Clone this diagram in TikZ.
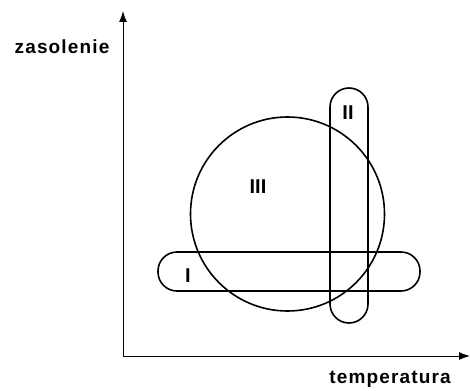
\documentclass[tikz,border=0pt]{standalone}
\usepackage{fontspec}
\setmainfont{Liberation Sans}
\usetikzlibrary{arrows.meta}
\begin{document}
\begin{tikzpicture}[x=1pt, y=-1pt,
    axis/.style={-{Latex[length=11pt,width=8pt]}, line width=1pt},
    region/.style={draw, line width=1.6pt, inner sep=0pt},
    band/.style={region, rectangle, rounded corners=19pt},
    lbl/.style={font=\fontsize{19}{21}\selectfont\bfseries\addfontfeature{LetterSpace=6}},
    tag/.style={font=\fontsize{20}{22}\selectfont\bfseries}
]
\useasboundingbox (0,0) rectangle (470,390);
% Osie
\coordinate (origin) at (123,356);
\coordinate (ytip) at (123,11);
\coordinate (xtip) at (470,356);
\draw[axis] (origin) -- (ytip);
\draw[axis] (origin) -- (xtip);
\node[lbl] (ylab) at (62,47) {zasolenie};
\node[lbl] (xlab) at (390,379) {temperatura};

% Obszary
\node[region, circle, minimum size=194pt] (regIII) at (287.5,214) {};
\node[band, minimum width=262pt, minimum height=39pt] (regI) at (289,271.5) {};
\node[band, minimum width=38pt, minimum height=235pt] (regII) at (349,205.5) {};

% Oznaczenia
\node[tag] (tagI) at (188,276) {I};
\node[tag] (tagII) at (348,113) {II};
\node[tag] (tagIII) at (258,187) {III};

\end{tikzpicture}
\end{document}
